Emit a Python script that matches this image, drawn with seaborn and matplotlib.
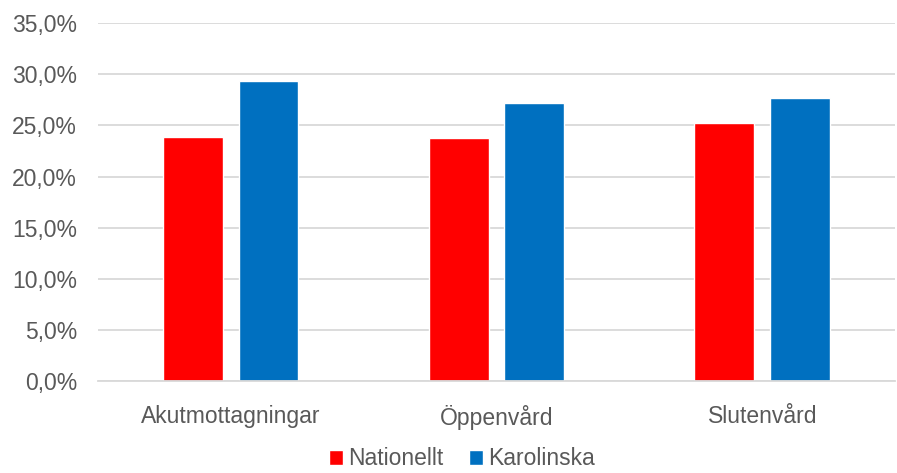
import numpy as np
import pandas as pd
import seaborn as sns
import matplotlib.pyplot as plt
from matplotlib.ticker import FuncFormatter

categories = ["Akutmottagningar", "Öppenvård", "Slutenvård"]
series = ["Nationellt", "Karolinska"]
nationellt = [23.9, 23.8, 25.2]
karolinska = [29.3, 27.2, 27.7]
colors = {"Nationellt": "#FF0000", "Karolinska": "#0070C0"}

df = pd.DataFrame({
    "kategori": categories * 2,
    "serie": ["Nationellt"] * 3 + ["Karolinska"] * 3,
    "andel": nationellt + karolinska,
})

sns.set_style("white")
plt.rcParams["font.family"] = ["Liberation Sans", "DejaVu Sans"]

fig = plt.figure(figsize=(8.97, 4.73), dpi=100)
ax = fig.add_axes([0.109, 0.194, 0.889, 0.757])

sns.barplot(data=df, x="kategori", y="andel", hue="serie", palette=colors,
            width=0.57, gap=0.21, saturation=1, ax=ax, legend=True)

ax.set_ylim(0, 35)
ax.set_yticks(np.arange(0, 36, 5))
ax.yaxis.set_major_formatter(FuncFormatter(lambda v, p: f"{v:.1f}%".replace(".", ",")))
ax.grid(axis="y", color="#D9D9D9", linewidth=1.3)
ax.set_axisbelow(True)
for s in ["top", "right", "left"]:
    ax.spines[s].set_visible(False)
ax.spines["bottom"].set_color("#D9D9D9")
ax.spines["bottom"].set_linewidth(1.3)
ax.tick_params(axis="both", length=0, labelsize=16.5, colors="#595959")
ax.tick_params(axis="x", pad=17)
ax.tick_params(axis="y", pad=15)
ax.set_xlabel("")
ax.set_ylabel("")

handles, labels = ax.get_legend_handles_labels()
ax.get_legend().remove()
fig.legend(handles, labels, loc="lower center", bbox_to_anchor=(0.515, -0.038), ncol=2,
           frameon=False, fontsize=16.5, labelcolor="#595959",
           handlelength=0.6, handleheight=0.6, handletextpad=0.25, columnspacing=1.1)

fig.savefig("out.png", dpi=100)
